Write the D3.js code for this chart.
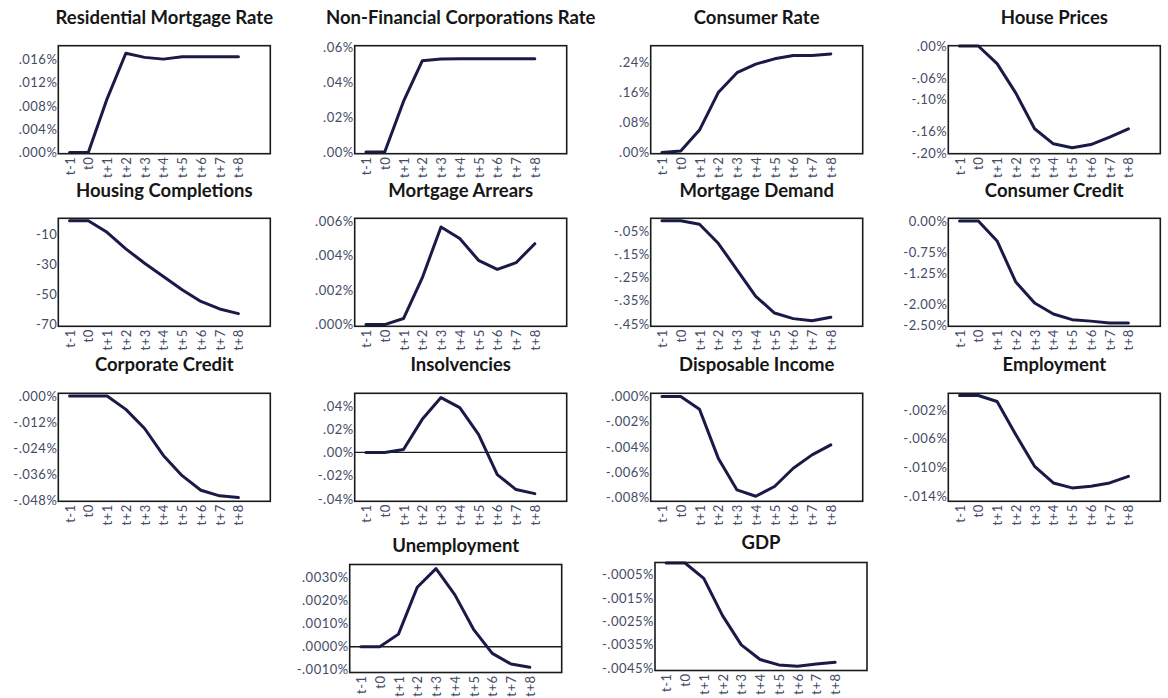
<!DOCTYPE html>
<html><head><meta charset="utf-8">
<script src="https://cdn.jsdelivr.net/npm/d3@7"></script>
<style>
body{margin:0;background:#fff;}
svg{display:block;}
.title{font-family:Lato,sans-serif;font-weight:700;font-size:18.5px;fill:#161616;}
.axis text{font-family:Lato,sans-serif;font-size:13px;fill:#434b66;letter-spacing:0.5px;}
</style></head><body>
<svg id="chart" width="1168" height="698"></svg>
<script>
// ---------- data ----------
const periods = ["t-1","t0","t+1","t+2","t+3","t+4","t+5","t+6","t+7","t+8"];
const titles = ["Residential Mortgage Rate","Non-Financial Corporations Rate","Consumer Rate","House Prices",
  "Housing Completions","Mortgage Arrears","Mortgage Demand","Consumer Credit",
  "Corporate Credit","Insolvencies","Disposable Income","Employment",
  "Unemployment","GDP"];

const residentialMortgageRate = [0, 0, 0.0092, 0.0170, 0.0163, 0.0160, 0.0164, 0.0164, 0.0164, 0.0164];
const nonFinancialCorporationsRate = [0, 0, 0.029, 0.0523, 0.0533, 0.0535, 0.0535, 0.0535, 0.0535, 0.0535];
const consumerRate = [0, 0.0045, 0.060, 0.160, 0.213, 0.236, 0.250, 0.259, 0.259, 0.263];
const housePrices = [0, 0, -0.033, -0.088, -0.1545, -0.1826, -0.190, -0.184, -0.170, -0.1545];
const housingCompletions = [-1, -1, -8.7, -19.7, -29.2, -38.0, -46.8, -54.6, -59.6, -62.7];
const mortgageArrears = [0, 0, 0.00035, 0.0027, 0.00565, 0.00498, 0.00372, 0.00319, 0.00358, 0.00468];
const mortgageDemand = [-0.006, -0.006, -0.021, -0.103, -0.217, -0.331, -0.403, -0.427, -0.436, -0.421];
const consumerCredit = [0, 0, -0.478, -1.465, -1.967, -2.23, -2.365, -2.40, -2.444, -2.444];
const corporateCredit = [0, 0, 0, -0.0062, -0.015, -0.0274, -0.0367, -0.0434, -0.046, -0.0468];
const insolvencies = [0, 0, 0.0026, 0.0285, 0.0472, 0.0386, 0.0155, -0.019, -0.0319, -0.0354];
const disposableIncome = [0, 0, -0.001, -0.00488, -0.0074, -0.0079, -0.00713, -0.00568, -0.00462, -0.00383];
const employment = [0, 0, -0.00084, -0.00546, -0.00984, -0.01215, -0.01284, -0.01261, -0.01215, -0.01123];
const unemployment = [0, 0, 0.00055, 0.00259, 0.0034, 0.00227, 0.00076, -0.00029, -0.00075, -0.00089];
const gdp = [0, 0, -0.00066, -0.00226, -0.00351, -0.00414, -0.00437, -0.00443, -0.00433, -0.00426];

const seriesList = [residentialMortgageRate, nonFinancialCorporationsRate, consumerRate, housePrices,
  housingCompletions, mortgageArrears, mortgageDemand, consumerCredit,
  corporateCredit, insolvencies, disposableIncome, employment, unemployment, gdp];

const yDomains = [[-0.0002,0.0183],[-0.001,0.061],[-0.003,0.285],[-0.201,0.0005],
  [-71.1,0.6],[-0.0001,0.00615],[-0.46,0.0043],[-2.524,0.064],
  [-0.0485,0.0012],[-0.042,0.0509],[-0.0083,0.00026],[-0.0147,0.0003],
  [-0.00112,0.00358],[-0.00461,0.00002]];

const yTickValues = [
  [0,0.004,0.008,0.012,0.016],
  [0,0.02,0.04,0.06],
  [0,0.08,0.16,0.24],
  [0,-0.06,-0.10,-0.16,-0.20],
  [-10,-30,-50,-70],
  [0,0.002,0.004,0.006],
  [-0.05,-0.15,-0.25,-0.35,-0.45],
  [0,-0.75,-1.25,-2.0,-2.5],
  [0,-0.012,-0.024,-0.036,-0.048],
  [-0.04,-0.02,0,0.02,0.04],
  [0,-0.002,-0.004,-0.006,-0.008],
  [-0.002,-0.006,-0.010,-0.014],
  [-0.001,0,0.001,0.002,0.003],
  [-0.0005,-0.0015,-0.0025,-0.0035,-0.0045]];
const yTickLabels = [
  [".000%",".004%",".008%",".012%",".016%"],
  [".00%",".02%",".04%",".06%"],
  [".00%",".08%",".16%",".24%"],
  [".00%","-.06%","-.10%","-.16%","-.20%"],
  ["-10","-30","-50","-70"],
  [".000%",".002%",".004%",".006%"],
  ["-.05%","-.15%","-.25%","-.35%","-.45%"],
  ["0.00%","-0.75%","-1.25%","-2.00%","-2.50%"],
  [".000%","-.012%","-.024%","-.036%","-.048%"],
  ["-.04%","-.02%",".00%",".02%",".04%"],
  [".000%","-.002%","-.004%","-.006%","-.008%"],
  ["-.002%","-.006%","-.010%","-.014%"],
  ["-.0010%",".0000%",".0010%",".0020%",".0030%"],
  ["-.0005%","-.0015%","-.0025%","-.0035%","-.0045%"]];
const zeroLinePanels = ["Insolvencies","Unemployment"];

// ---------- layout ----------
const W = 212, H = 108;
const layout = [
  {x:58.3,y:45.7,ty:24},{x:354.7,y:45.7,ty:24},{x:650.7,y:45.7,ty:24},{x:948.3,y:45.7,ty:24},
  {x:58.3,y:218.3,ty:197},{x:354.7,y:218.3,ty:197},{x:650.7,y:218.3,ty:197},{x:948.3,y:218.3,ty:197},
  {x:58.3,y:393.3,ty:371},{x:354.7,y:393.3,ty:371},{x:650.7,y:393.3,ty:371},{x:948.3,y:393.3,ty:371},
  {x:349.7,y:564.5,ty:552},{x:655,y:562.5,ty:549}];

const svg = d3.select("#chart");

titles.forEach((title, i) => {
  const L = layout[i];
  const vals = seriesList[i];
  const x = d3.scaleLinear().domain([-0.6, 10.7]).range([0, W]);
  const y = d3.scaleLinear().domain(yDomains[i]).range([H, 0]);
  const g = svg.append("g").attr("transform", `translate(${L.x},${L.y})`);

  // y axis
  const ya = g.append("g").attr("class","axis")
    .call(d3.axisLeft(y).tickValues(yTickValues[i])
      .tickFormat((d, j) => yTickLabels[i][j]).tickSize(0).tickPadding(1));
  ya.select(".domain").remove();

  // x axis
  const xa = g.append("g").attr("class","axis").attr("transform",`translate(0,${H})`)
    .call(d3.axisBottom(x).tickValues(d3.range(periods.length))
      .tickFormat(j => periods[j]).tickSize(0));
  xa.select(".domain").remove();
  xa.selectAll("text")
    .attr("transform","rotate(-90)")
    .attr("x",-3).attr("y",0).attr("dy","0.35em")
    .style("text-anchor","end");

  // zero line
  if (zeroLinePanels.includes(title)) {
    g.append("line").attr("x1",0).attr("x2",W)
      .attr("y1",y(0)).attr("y2",y(0))
      .attr("stroke","#1a1a1a").attr("stroke-width",1.3);
  }

  // series line
  g.append("path").datum(vals)
    .attr("fill","none").attr("stroke","#1a1a48").attr("stroke-width",3)
    .attr("stroke-linejoin","round").attr("stroke-linecap","round")
    .attr("d", d3.line().x((d, j) => x(j)).y(d => y(d)));

  // frame
  g.append("rect").attr("x",0).attr("y",0).attr("width",W).attr("height",H)
    .attr("fill","none").attr("stroke","#1a1a1a").attr("stroke-width",1.6);

  // title
  svg.append("text").attr("class","title")
    .attr("x", L.x + W/2).attr("y", L.ty)
    .attr("text-anchor","middle").text(title);
});
</script>
</body></html>
